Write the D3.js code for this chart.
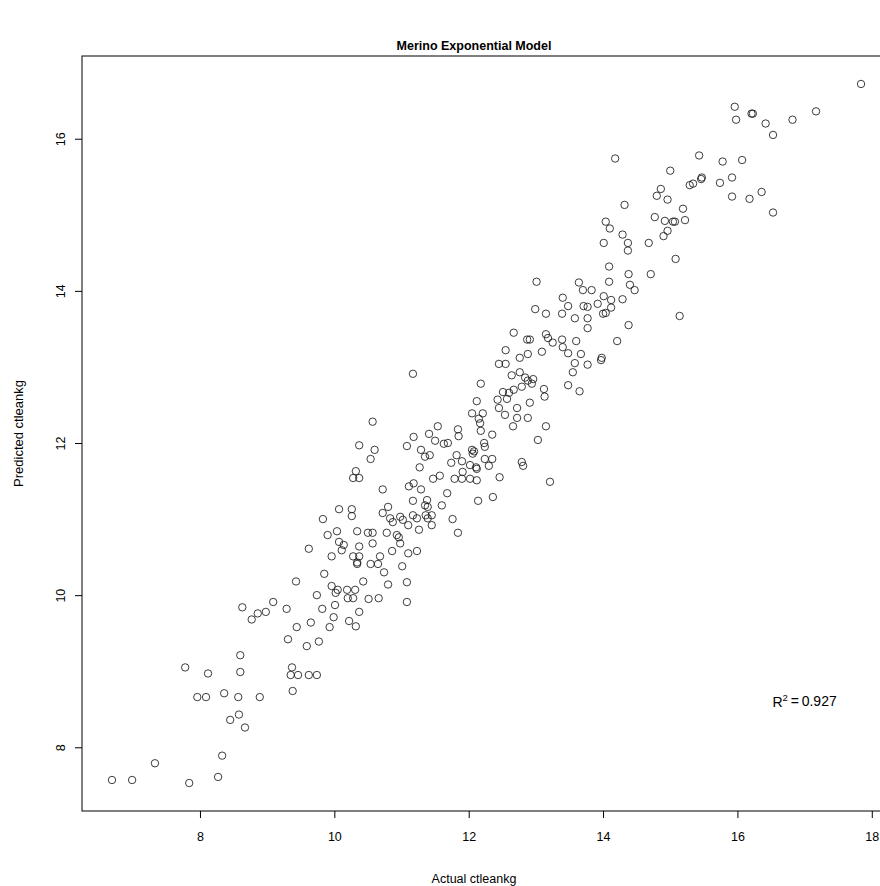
<!DOCTYPE html>
<html>
<head>
<meta charset="utf-8">
<script src="https://cdn.jsdelivr.net/npm/d3@7"></script>
<style>
  html, body { margin: 0; padding: 0; background: #fff; }
  svg text { font-family: "Liberation Sans", Arial, Helvetica, sans-serif; fill: #000; }
</style>
</head>
<body>
<svg id="chart" width="880" height="886"></svg>
<script>
// Actual vs predicted clean fleece weight (kg), Merino exponential model
const actual = [
  6.69,6.99,7.33,7.84,8.27,8.33,8.45,8.58,8.67,7.96,
  8.09,8.36,8.57,8.89,9.38,8.12,8.60,9.35,9.46,9.62,
  9.74,7.78,8.63,8.77,8.86,8.98,9.09,8.60,9.90,10.04,
  10.34,10.50,10.57,9.62,10.07,10.14,10.11,10.37,10.57,9.96,
  10.28,10.37,10.34,10.34,10.54,10.65,10.68,10.74,9.85,9.43,
  10.43,9.96,10.05,10.02,10.19,10.31,10.20,10.28,9.74,10.51,
  10.66,9.29,10.01,9.82,10.37,9.99,9.65,10.22,10.32,9.93,
  9.44,9.31,9.77,9.59,9.37,10.78,10.93,10.96,10.98,11.26,
  11.84,10.86,11.10,11.23,11.01,10.80,11.08,11.08,10.57,10.37,
  10.60,10.54,10.32,10.28,10.37,11.18,11.08,11.29,11.27,10.72,
  11.11,11.18,11.29,11.17,10.80,10.07,10.26,10.26,10.72,10.83,
  10.87,10.98,11.02,11.10,11.17,11.23,9.83,
  12.12,12.05,12.21,12.15,12.17,12.43,12.51,12.60,12.67,12.57,
  12.45,12.54,12.72,12.72,12.66,11.54,11.84,11.85,12.18,12.35,
  11.41,11.50,11.63,11.69,12.23,12.24,11.35,11.42,12.05,12.06,
  12.08,11.82,11.90,11.74,12.02,12.11,12.12,12.24,12.35,12.30,
  11.91,11.57,11.47,11.79,11.90,12.02,12.12,12.46,11.68,11.38,
  11.35,11.39,11.60,12.14,12.36,11.36,11.45,11.39,11.76,11.45,
  13.13,12.91,12.88,13.15,13.03,12.79,12.81,13.21,
  13.01,12.99,13.15,12.67,12.87,12.91,13.15,13.18,13.25,12.55,
  12.76,12.88,13.09,12.45,12.55,11.17,12.18,12.64,12.76,12.84,
  12.96,12.94,12.88,12.79,13.12,
  14.10,14.29,14.90,14.96,14.01,14.37,14.37,14.68,15.08,14.09,
  14.38,14.71,13.64,14.09,14.40,14.47,13.70,13.83,14.01,13.40,
  14.12,14.29,13.48,13.71,13.77,13.92,14.12,13.39,13.58,13.77,
  14.00,14.04,13.77,14.38,15.14,13.39,13.40,13.60,14.21,13.48,
  13.67,13.58,13.77,13.98,13.97,13.55,13.48,13.65,
  14.18,15.43,15.00,15.29,15.34,15.46,15.47,14.86,14.80,14.96,
  14.32,15.19,14.77,14.92,15.04,15.07,15.22,14.04,
  17.84,15.96,15.98,16.21,16.23,16.42,16.53,16.82,17.17,15.78,
  16.07,15.92,15.74,15.92,16.18,16.36,16.53
];

const predicted = [
  7.57,7.57,7.79,7.53,7.61,7.89,8.36,8.43,8.26,8.66,
  8.66,8.71,8.66,8.66,8.74,8.97,8.99,8.95,8.95,8.95,
  8.95,9.05,9.84,9.68,9.76,9.78,9.91,9.21,10.79,10.84,
  10.84,10.82,10.82,10.61,10.70,10.66,10.59,10.64,10.68,10.51,
  10.51,10.51,10.43,10.41,10.41,10.41,10.51,10.30,10.28,10.18,
  10.18,10.12,10.07,10.03,10.07,10.07,9.96,9.96,10.00,9.95,
  9.96,9.82,9.87,9.82,9.78,9.71,9.64,9.66,9.59,9.58,
  9.58,9.42,9.39,9.33,9.05,10.82,10.79,10.76,10.68,10.86,
  10.82,10.58,10.55,10.58,10.38,10.14,10.17,9.91,12.28,11.97,
  11.91,11.79,11.63,11.54,11.54,12.08,11.96,11.91,11.68,11.39,
  11.43,11.47,11.39,11.24,11.16,11.13,11.13,11.04,11.08,11.01,
  10.96,11.03,10.99,10.92,11.05,11.01,11.00,
  12.55,12.39,12.39,12.32,12.26,12.57,12.67,12.66,12.70,12.58,
  12.46,12.37,12.46,12.33,12.22,12.22,12.18,12.09,12.16,12.11,
  12.12,12.03,11.99,12.00,12.00,11.95,11.82,11.84,11.91,11.86,
  11.89,11.84,11.76,11.74,11.71,11.68,11.66,11.79,11.79,11.70,
  11.62,11.57,11.53,11.53,11.53,11.53,11.51,11.55,11.34,11.25,
  11.18,11.16,11.18,11.24,11.29,11.05,11.05,11.01,11.00,10.92,
  12.61,12.53,12.33,12.22,12.04,11.75,11.70,11.49,
  14.12,13.76,13.70,13.45,13.36,13.36,13.43,13.38,13.32,13.22,
  13.12,13.17,13.20,13.04,13.04,12.91,12.78,12.89,12.93,12.86,
  12.84,12.78,12.82,12.74,12.71,
  14.82,14.74,14.72,14.79,14.63,14.63,14.53,14.63,14.42,14.32,
  14.22,14.22,14.11,14.12,14.08,14.01,14.01,14.01,13.93,13.91,
  13.88,13.89,13.80,13.80,13.79,13.83,13.78,13.70,13.64,13.64,
  13.70,13.71,13.51,13.55,13.67,13.36,13.26,13.34,13.34,13.18,
  13.17,13.05,13.03,13.12,13.09,12.93,12.76,12.68,
  15.74,15.78,15.58,15.39,15.41,15.47,15.49,15.34,15.25,15.20,
  15.13,15.08,14.97,14.92,14.91,14.91,14.93,14.91,
  16.72,16.42,16.25,16.33,16.33,16.20,16.05,16.25,16.36,15.70,
  15.72,15.49,15.42,15.24,15.21,15.30,15.03
];

const xTicks = [8, 10, 12, 14, 16, 18];
const yTicks = [8, 10, 12, 14, 16];
const rSquared = 0.927;
const rSquaredAt = [17.0, 8.6];

const titleText = "Merino Exponential Model";
const xLabel = "Actual ctleankg";
const yLabel = "Predicted ctleankg";

// Plot region (base-graphics style: data range padded by 4% on each side)
const plot = { left: 82, right: 891, top: 56, bottom: 811 };

function padded(values) {
  const [lo, hi] = d3.extent(values);
  const pad = (hi - lo) * 0.04;
  return [lo - pad, hi + pad];
}

const x = d3.scaleLinear().domain(padded(actual)).range([plot.left, plot.right]);
const y = d3.scaleLinear().domain(padded(predicted)).range([plot.bottom, plot.top]);

const points = d3.zip(actual, predicted);

const svg = d3.select("#chart");
svg.append("rect").attr("width", 880).attr("height", 886).attr("fill", "#fff");

// Points: open circles
svg.append("g")
  .selectAll("circle")
  .data(points)
  .join("circle")
  .attr("cx", d => x(d[0]))
  .attr("cy", d => y(d[1]))
  .attr("r", 3.7)
  .attr("fill", "none")
  .attr("stroke", "#1a1a1a")
  .attr("stroke-width", 0.85);

// Frame around the plot region
svg.append("rect")
  .attr("x", plot.left)
  .attr("y", plot.top)
  .attr("width", plot.right - plot.left)
  .attr("height", plot.bottom - plot.top)
  .attr("fill", "none")
  .attr("stroke", "#000")
  .attr("stroke-width", 1);

// X axis
const gx = svg.append("g")
  .attr("transform", `translate(0,${plot.bottom})`)
  .call(d3.axisBottom(x).tickValues(xTicks).tickFormat(d3.format("d")).tickSize(7).tickPadding(14));
gx.select(".domain").remove();
gx.selectAll("line").attr("stroke", "#000");
gx.selectAll("text").attr("font-size", 12.5).attr("font-family", null);

// Y axis, labels parallel to the axis
const gy = svg.append("g")
  .attr("transform", `translate(${plot.left},0)`)
  .call(d3.axisLeft(y).tickValues(yTicks).tickFormat(d3.format("d")).tickSize(7));
gy.select(".domain").remove();
gy.selectAll("line").attr("stroke", "#000");
gy.selectAll("text")
  .attr("font-size", 12.5)
  .attr("font-family", null)
  .attr("x", 0)
  .attr("y", -17)
  .attr("dy", 0)
  .attr("text-anchor", "middle")
  .attr("transform", "rotate(-90)");

// Title
svg.append("text")
  .attr("x", 474)
  .attr("y", 50)
  .attr("text-anchor", "middle")
  .attr("font-size", 12.5)
  .attr("font-weight", "bold")
  .text(titleText);

// Axis titles
svg.append("text")
  .attr("x", 474)
  .attr("y", 883)
  .attr("text-anchor", "middle")
  .attr("font-size", 12.5)
  .text(xLabel);

svg.append("text")
  .attr("transform", `translate(23,${(plot.top + plot.bottom) / 2}) rotate(-90)`)
  .attr("text-anchor", "middle")
  .attr("font-size", 13)
  .text(yLabel);

// R-squared annotation
const r2 = svg.append("text")
  .attr("x", x(rSquaredAt[0]))
  .attr("y", y(rSquaredAt[1]))
  .attr("dy", "0.35em")
  .attr("text-anchor", "middle")
  .attr("font-size", 14);
r2.append("tspan").text("R");
r2.append("tspan").attr("font-size", 9.5).attr("dy", "-0.55em").text("2");
r2.append("tspan").attr("dy", "0.35em").text("\u2009=\u20090.927".replace("0.927", rSquared.toFixed(3)));
</script>
</body>
</html>
